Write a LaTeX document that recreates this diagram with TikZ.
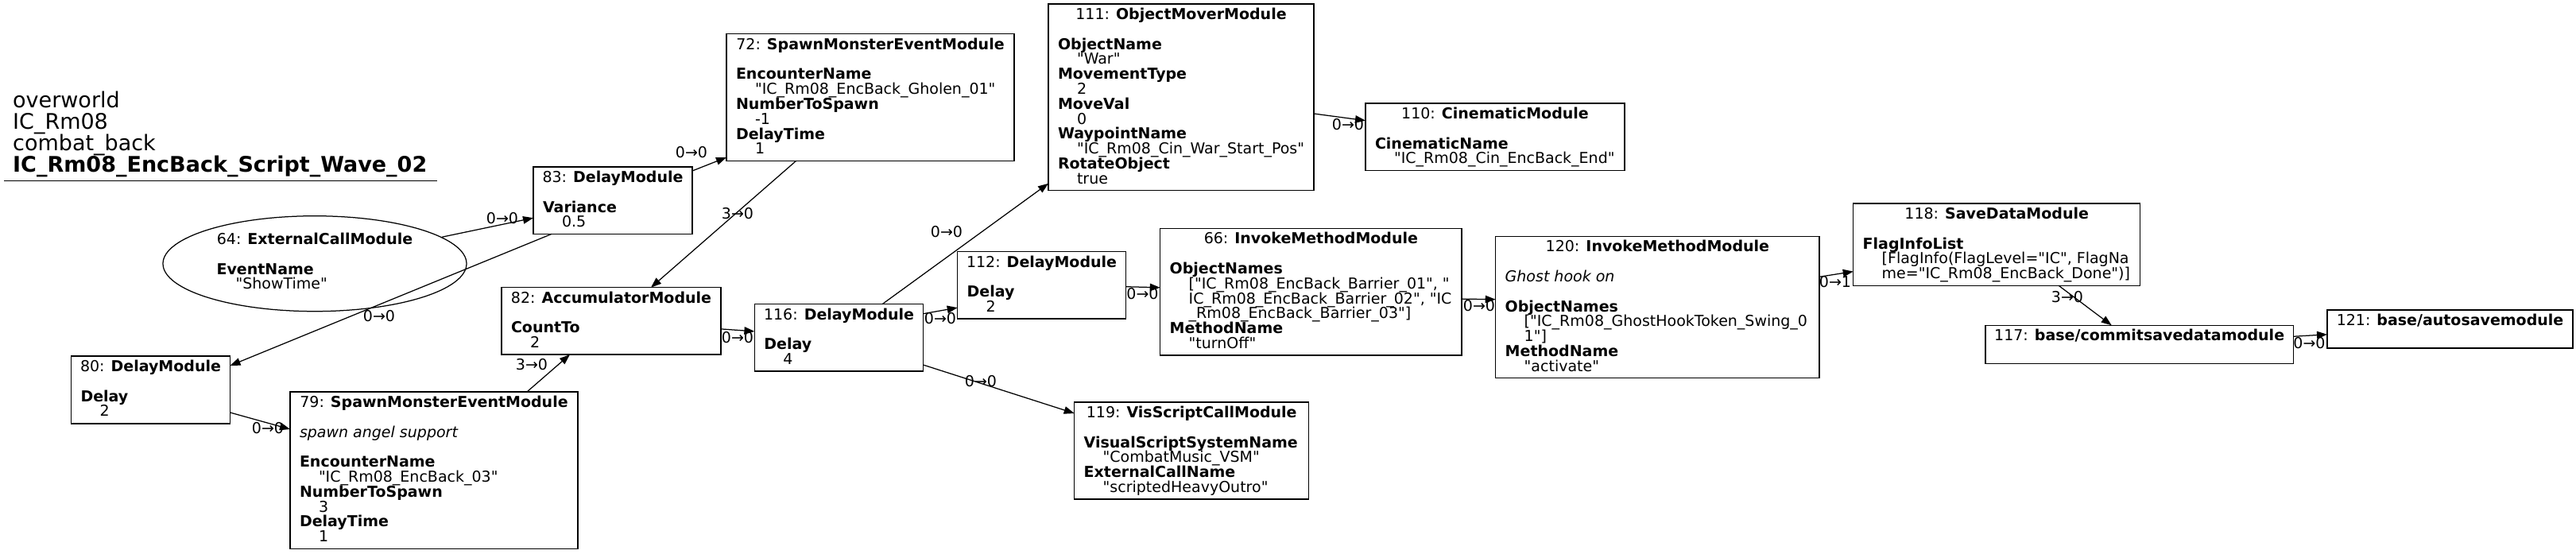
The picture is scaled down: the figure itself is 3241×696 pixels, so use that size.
\documentclass[tikz,border=0pt]{standalone}
\usepackage{fontspec}
\setmainfont{DejaVu Sans}[Ligatures=TeXOff]
\usetikzlibrary{arrows.meta,shapes.geometric}
\newcommand{\nfont}{\fontsize{19pt}{18.8pt}\selectfont\lineskiplimit=-50pt\lineskip=0pt}
\newcommand{\tfont}{\fontsize{27pt}{26.9pt}\selectfont\lineskiplimit=-50pt\lineskip=0pt}
\newcommand{\fst}{\rule{0pt}{14.5pt}}
\newcommand{\tst}{\rule{0pt}{20.6pt}}
\newcommand{\ind}{\hspace*{24pt}}
\tikzset{
  modbox/.style={draw=black, line width=1.25pt, rectangle, inner sep=0pt, outer sep=0pt, anchor=north west},
  hdr/.style={inner sep=0pt, outer sep=0pt, anchor=base, font=\nfont},
  bodytxt/.style={inner sep=0pt, outer sep=0pt, anchor=north west, align=left, font=\nfont},
  conn/.style={line width=1.25pt, draw=black, -{Triangle[length=13pt,width=9.5pt]}},
  elab/.style={inner sep=0pt, outer sep=0pt, font=\nfont},
}
\begin{document}
\begin{tikzpicture}[x=1pt,y=-1pt]
\useasboundingbox (0,0) rectangle (3241,696);

% title
\node[inner sep=0pt, anchor=north west, align=left, font=\tfont] (title) at (16,115.1)
  {\tst overworld\\IC\_Rm08\\combat\_back\\\textbf{IC\_Rm08\_EncBack\_Script\_Wave\_02}};
\draw[line width=1.25pt] (5,227.7) -- (550,227.7);

% 64 ellipse
\node[draw=black, line width=1.25pt, ellipse, minimum width=382pt, minimum height=120pt, inner sep=0pt] (n64) at (396,331.7) {};
\node[hdr] (h64) at ([yshift=24.2pt]n64.center) {64: \textbf{ExternalCallModule}};
\node[bodytxt] (b64) at ([xshift=-123.4pt,yshift=1.1pt]n64.center) {\fst\textbf{EventName}\\\ind"ShowTime"};

% 83
\node[modbox, minimum width=200pt, minimum height=84.4pt] (n83) at (671,210) {};
\node[hdr] (h83) at ([yshift=-19.5pt]n83.north) {83: \textbf{DelayModule}};
\node[bodytxt] (b83) at ([xshift=12pt,yshift=-42.6pt]n83.north west) {\fst\textbf{Variance}\\\ind 0.5};

% 72
\node[modbox, minimum width=362pt, minimum height=159.6pt] (n72) at (914,42.7) {};
\node[hdr] (h72) at ([yshift=-19.5pt]n72.north) {72: \textbf{SpawnMonsterEventModule}};
\node[bodytxt] (b72) at ([xshift=12pt,yshift=-42.6pt]n72.north west)
  {\fst\textbf{EncounterName}\\\ind"IC\_Rm08\_EncBack\_Gholen\_01"\\\textbf{NumberToSpawn}\\\ind -1\\\textbf{DelayTime}\\\ind 1};

% 111
\node[modbox, minimum width=334pt, minimum height=234.8pt] (n111) at (1319,5) {};
\node[hdr] (h111) at ([yshift=-19.5pt]n111.north) {111: \textbf{ObjectMoverModule}};
\node[bodytxt] (b111) at ([xshift=12pt,yshift=-42.6pt]n111.north west)
  {\fst\textbf{ObjectName}\\\ind"War"\\\textbf{MovementType}\\\ind 2\\\textbf{MoveVal}\\\ind 0\\\textbf{WaypointName}\\\ind"IC\_Rm08\_Cin\_War\_Start\_Pos"\\\textbf{RotateObject}\\\ind true};

% 110
\node[modbox, minimum width=326pt, minimum height=84.4pt] (n110) at (1718,130) {};
\node[hdr] (h110) at ([yshift=-19.5pt]n110.north) {110: \textbf{CinematicModule}};
\node[bodytxt] (b110) at ([xshift=12pt,yshift=-42.6pt]n110.north west)
  {\fst\textbf{CinematicName}\\\ind"IC\_Rm08\_Cin\_EncBack\_End"};

% 82
\node[modbox, minimum width=276pt, minimum height=84.4pt] (n82) at (631,361.7) {};
\node[hdr] (h82) at ([yshift=-19.5pt]n82.north) {82: \textbf{AccumulatorModule}};
\node[bodytxt] (b82) at ([xshift=12pt,yshift=-42.6pt]n82.north west) {\fst\textbf{CountTo}\\\ind 2};

% 116
\node[modbox, minimum width=212.3pt, minimum height=84.4pt] (n116) at (949.4,382.7) {};
\node[hdr] (h116) at ([yshift=-19.5pt]n116.north) {116: \textbf{DelayModule}};
\node[bodytxt] (b116) at ([xshift=12pt,yshift=-42.6pt]n116.north west) {\fst\textbf{Delay}\\\ind 4};

% 112
\node[modbox, minimum width=211.6pt, minimum height=84.4pt] (n112) at (1204.7,316.7) {};
\node[hdr] (h112) at ([yshift=-19.5pt]n112.north) {112: \textbf{DelayModule}};
\node[bodytxt] (b112) at ([xshift=12pt,yshift=-42.6pt]n112.north west) {\fst\textbf{Delay}\\\ind 2};

% 66
\node[modbox, minimum width=379.3pt, minimum height=159.6pt] (n66) at (1459.7,287.3) {};
\node[hdr] (h66) at ([yshift=-19.5pt]n66.north) {66: \textbf{InvokeMethodModule}};
\node[bodytxt] (b66) at ([xshift=12pt,yshift=-42.6pt]n66.north west)
  {\fst\textbf{ObjectNames}\\\ind["IC\_Rm08\_EncBack\_Barrier\_01", "\\\ind IC\_Rm08\_EncBack\_Barrier\_02", "IC\\\ind \_Rm08\_EncBack\_Barrier\_03"]\\\textbf{MethodName}\\\ind"turnOff"};

% 120
\node[modbox, minimum width=407.3pt, minimum height=178.4pt] (n120) at (1881.7,297.3) {};
\node[hdr] (h120) at ([yshift=-19.5pt]n120.north) {120: \textbf{InvokeMethodModule}};
\node[bodytxt] (b120) at ([xshift=12pt,yshift=-42.6pt]n120.north west)
  {\fst\textit{Ghost hook on}\\\mbox{}\\\textbf{ObjectNames}\\\ind["IC\_Rm08\_GhostHookToken\_Swing\_0\\\ind 1"]\\\textbf{MethodName}\\\ind"activate"};

% 118
\node[modbox, minimum width=361pt, minimum height=103.2pt] (n118) at (2331.7,256) {};
\node[hdr] (h118) at ([yshift=-19.5pt]n118.north) {118: \textbf{SaveDataModule}};
\node[bodytxt] (b118) at ([xshift=12pt,yshift=-42.6pt]n118.north west)
  {\fst\textbf{FlagInfoList}\\\ind[FlagInfo(FlagLevel="IC", FlagNa\\\ind me="IC\_Rm08\_EncBack\_Done")]};

% 117
\node[modbox, minimum width=387.3pt, minimum height=48pt] (n117) at (2498,409.3) {};
\node[hdr] (h117) at ([yshift=-19.5pt]n117.north) {117: \textbf{base/commitsavedatamodule}};

% 121
\node[modbox, minimum width=309pt, minimum height=48pt] (n121) at (2928,390) {};
\node[hdr] (h121) at ([yshift=-19.5pt]n121.north) {121: \textbf{base/autosavemodule}};

% 80
\node[modbox, minimum width=200pt, minimum height=85pt] (n80) at (89.5,448) {};
\node[hdr] (h80) at ([yshift=-19.5pt]n80.north) {80: \textbf{DelayModule}};
\node[bodytxt] (b80) at ([xshift=12pt,yshift=-42.6pt]n80.north west) {\fst\textbf{Delay}\\\ind 2};

% 79
\node[modbox, minimum width=362pt, minimum height=197.2pt] (n79) at (365,493) {};
\node[hdr] (h79) at ([yshift=-19.5pt]n79.north) {79: \textbf{SpawnMonsterEventModule}};
\node[bodytxt] (b79) at ([xshift=12pt,yshift=-42.6pt]n79.north west)
  {\fst\textit{spawn angel support}\\\mbox{}\\\textbf{EncounterName}\\\ind"IC\_Rm08\_EncBack\_03"\\\textbf{NumberToSpawn}\\\ind 3\\\textbf{DelayTime}\\\ind 1};

% 119
\node[modbox, minimum width=295pt, minimum height=122pt] (n119) at (1351.7,506) {};
\node[hdr] (h119) at ([yshift=-19.5pt]n119.north) {119: \textbf{VisScriptCallModule}};
\node[bodytxt] (b119) at ([xshift=12pt,yshift=-42.6pt]n119.north west)
  {\fst\textbf{VisualScriptSystemName}\\\ind"CombatMusic\_VSM"\\\textbf{ExternalCallName}\\\ind"scriptedHeavyOutro"};

% connectors
\draw[conn] (n64) -- ([yshift=-22pt]n83.west);
\draw[conn] ([yshift=-5pt]n83.north east) -- ([yshift=4.3pt]n72.south west);
\draw[conn] ([xshift=23pt]n83.south west) -- ([yshift=-12pt]n80.north east);
\draw[conn] ([xshift=87.7pt]n72.south west) -- ([xshift=188pt]n82.north west);
\draw[conn] ([xshift=298pt]n79.north west) -- ([xshift=86pt]n82.south west);
\draw[conn] ([yshift=14pt]n80.south east) -- ([yshift=-47pt]n79.north west);
\draw[conn] ([yshift=-10pt]n82.east) -- ([yshift=8pt]n116.west);
\draw[conn] ([yshift=-12pt]n116.north east) -- ([yshift=14pt]n112.south west);
\draw[conn] ([xshift=160.6pt]n116.north west) -- ([yshift=9pt]n111.south west);
\draw[conn] ([yshift=8pt]n116.south east) -- ([yshift=-14pt]n119.north west);
\draw[conn] ([yshift=-20.6pt]n111.east) -- ([yshift=20.5pt]n110.west);
\draw[conn] ([yshift=-1.8pt]n112.east) -- ([yshift=5.3pt]n66.west);
\draw[conn] ([yshift=-9pt]n66.east) -- ([yshift=9.8pt]n120.west);
\draw[conn] ([yshift=38.2pt]n120.east) -- ([yshift=-34pt]n118.west);
\draw[conn] ([xshift=258.3pt]n118.south west) -- ([xshift=158.7pt]n117.north west);
\draw[conn] ([yshift=10pt]n117.east) -- ([yshift=-6.8pt]n121.west);

% connector labels
\node[elab] (l1) at (632,275) {0→0};
\node[elab] (l2) at (870,192) {0→0};
\node[elab] (l3) at (477,398) {0→0};
\node[elab] (l4) at (928,269) {3→0};
\node[elab] (l5) at (669,459) {3→0};
\node[elab] (l6) at (337,539) {0→0};
\node[elab] (l7) at (928,425) {0→0};
\node[elab] (l8) at (1183,401) {0→0};
\node[elab] (l9) at (1191,292) {0→0};
\node[elab] (l10) at (1234,480) {0→0};
\node[elab] (l11) at (1696,157) {0→0};
\node[elab] (l12) at (1437.5,370) {0→0};
\node[elab] (l13) at (1861,385) {0→0};
\node[elab] (l14) at (2309,355) {0→1};
\node[elab] (l15) at (2601,374) {3→0};
\node[elab] (l16) at (2905.5,432) {0→0};
\end{tikzpicture}
\end{document}
